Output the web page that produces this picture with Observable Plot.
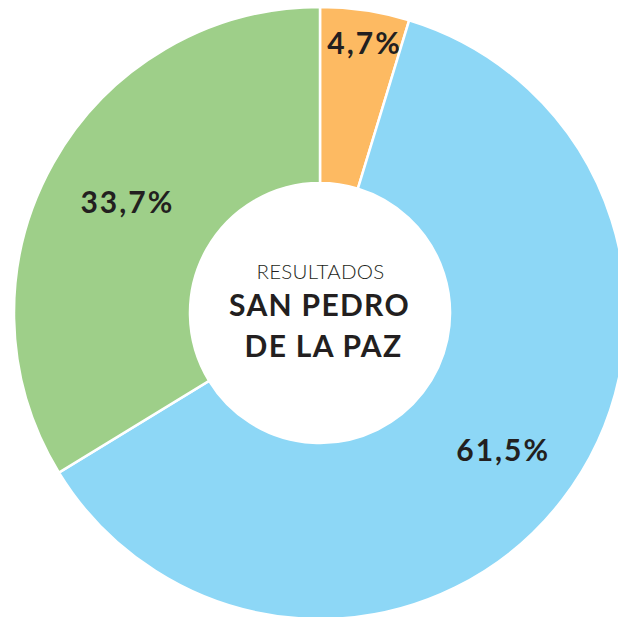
<!DOCTYPE html>
<html>
<head>
<meta charset="utf-8">
<script src="https://cdn.jsdelivr.net/npm/d3@7"></script>
<script src="https://cdn.jsdelivr.net/npm/@observablehq/plot@0.6"></script>
<style>
html, body { margin: 0; padding: 0; background: #fff; overflow: hidden; }
#chart svg { display: block; }
.pct text { letter-spacing: 2px; }
.big text { letter-spacing: 1.3px; }
.light text { letter-spacing: 0.3px; }
</style>
</head>
<body>
<div id="chart"></div>
<script>
// ---- data ----
const categories = ["Segmento 1", "Segmento 2", "Segmento 3"];
const values = [4.7, 61.5, 33.7];
const labels = ["4,7%", "61,5%", "33,7%"];
const colors = ["#fdba62", "#8dd7f6", "#9ecf89"];
const titleLines = ["RESULTADOS", "SAN PEDRO", "DE LA PAZ"];

// ---- layout ----
const W = 618, H = 617;
const cx = 320, cy = 313, outerR = 306, innerR = 130;
const FONT = "Lato, 'Noto Sans', sans-serif";
const INK = "#231f20";

const data = categories.map((c, i) => ({category: c, value: values[i], label: labels[i]}));
const color = Plot.scale({color: {type: "ordinal", domain: categories, range: colors}});
const arcs = d3.pie().sort(null).value(d => d.value)(data);
const arcGen = d3.arc().innerRadius(innerR).outerRadius(outerR);

// label positions derived from the slices
const labelData = arcs.map(a => {
  const mid = (a.startAngle + a.endAngle) / 2;
  const span = a.endAngle - a.startAngle;
  const rr = span < 0.5 ? 272 : 226;
  return {x: cx + 4 + rr * Math.sin(mid), y: cy - rr * Math.cos(mid), label: a.data.label};
});

const slices = (index, scales) => {
  const g = d3.create("svg:g").attr("transform", `translate(${scales.x(cx)},${scales.y(cy)})`);
  g.selectAll("path")
    .data(arcs)
    .join("path")
    .attr("d", arcGen)
    .attr("fill", d => color.apply(d.data.category))
    .attr("stroke", "#fff")
    .attr("stroke-width", 2.5)
    .attr("stroke-linejoin", "miter");
  return g.node();
};

const plot = Plot.plot({
  width: W,
  height: H,
  margin: 0,
  x: {type: "identity", axis: null},
  y: {type: "identity", axis: null},
  style: {background: "#fff", fontFamily: FONT},
  marks: [
    slices,
    Plot.text(labelData, {x: "x", y: "y", text: "label", fontSize: 30, fontWeight: 700, fill: INK, fontFamily: FONT, className: "pct"}),
    Plot.text([titleLines[0]], {x: () => cx, y: () => cy, dy: -41, text: d => d, fontSize: 20.5, fontWeight: 300, fill: INK, fontFamily: FONT, className: "light"}),
    Plot.text([titleLines[1]], {x: () => cx - 1, y: () => cy, dy: -7, text: d => d, fontSize: 30, fontWeight: 700, fill: INK, fontFamily: FONT, className: "big"}),
    Plot.text([titleLines[2]], {x: () => cx + 3, y: () => cy, dy: 34, text: d => d, fontSize: 30, fontWeight: 700, fill: INK, fontFamily: FONT, className: "big"})
  ]
});
document.getElementById("chart").appendChild(plot);
</script>
</body>
</html>
